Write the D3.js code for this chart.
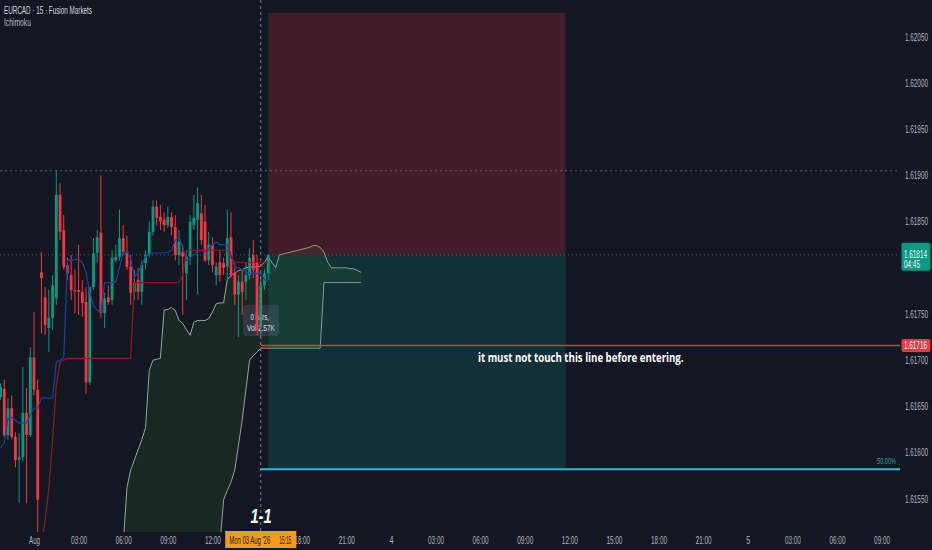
<!DOCTYPE html>
<html><head><meta charset="utf-8">
<script src="https://cdn.jsdelivr.net/npm/d3@7"></script>
<style>
html,body{margin:0;padding:0;background:#131722;overflow:hidden;}
svg{display:block;}
text{font-family:"Liberation Sans",Arial,sans-serif;}
</style></head><body>
<svg id="c" width="932" height="550"></svg>
<script>
// ---------- DATA ----------
const symbolTitle = "EURCAD · 15 · Fusion Markets";
const indicatorTitle = "Ichimoku";
const firstBar = "2026-08-02T21:45";   // first visible 15-min bar
const barMinutes = 15;

const open = [1.61660,1.61669,1.61619,1.61648,1.61617,1.61592,1.61595,1.61643,1.61619,1.61703,
 1.61668,1.61795,1.61768,1.61735,1.61746,1.61767,1.61879,1.61841,1.61803,1.61792,
 1.61776,1.61776,1.61774,1.61763,1.61676,1.61779,1.61816,1.61838,1.61751,1.61768,
 1.61765,1.61808,1.61812,1.61832,1.61817,1.61801,1.61774,1.61787,1.61774,1.61805,
 1.61814,1.61839,1.61866,1.61855,1.61852,1.61846,1.61855,1.61844,1.61814,1.61817,
 1.61794,1.61812,1.61846,1.61852,1.61859,1.61850,1.61808,1.61825,1.61792,1.61806,
 1.61805,1.61801,1.61833,1.61795,1.61771,1.61785,1.61785,1.61792,1.61814,1.61806,
 1.61736,1.61781,1.61794];
const high = [1.61675,1.61679,1.61659,1.61662,1.61622,1.61621,1.61693,1.61670,1.61714,1.61752,
 1.61679,1.61817,1.61779,1.61776,1.61792,1.61906,1.61892,1.61857,1.61811,1.61814,
 1.61798,1.61825,1.61787,1.61779,1.61779,1.61832,1.61841,1.61900,1.61773,1.61781,
 1.61819,1.61825,1.61863,1.61846,1.61835,1.61814,1.61798,1.61800,1.61808,1.61819,
 1.61850,1.61873,1.61873,1.61868,1.61860,1.61866,1.61860,1.61857,1.61841,1.61825,
 1.61819,1.61857,1.61879,1.61887,1.61879,1.61868,1.61839,1.61833,1.61806,1.61819,
 1.61811,1.61863,1.61860,1.61806,1.61792,1.61798,1.61806,1.61821,1.61830,1.61814,
 1.61789,1.61798,1.61814];
const low = [1.61657,1.61617,1.61614,1.61614,1.61584,1.61546,1.61590,1.61545,1.61617,1.61662,
 1.61514,1.61729,1.61727,1.61709,1.61733,1.61760,1.61830,1.61798,1.61787,1.61765,
 1.61751,1.61749,1.61747,1.61664,1.61673,1.61776,1.61806,1.61746,1.61735,1.61760,
 1.61760,1.61806,1.61808,1.61814,1.61798,1.61760,1.61765,1.61765,1.61760,1.61798,
 1.61811,1.61835,1.61846,1.61841,1.61839,1.61843,1.61835,1.61808,1.61803,1.61749,
 1.61765,1.61803,1.61841,1.61771,1.61825,1.61806,1.61803,1.61795,1.61781,1.61785,
 1.61792,1.61785,1.61789,1.61760,1.61725,1.61749,1.61765,1.61787,1.61789,1.61727,
 1.61724,1.61776,1.61787];
const close = [1.61671,1.61619,1.61648,1.61617,1.61592,1.61595,1.61643,1.61619,1.61703,1.61668,
 1.61549,1.61789,1.61738,1.61746,1.61781,1.61879,1.61839,1.61801,1.61794,1.61776,
 1.61775,1.61774,1.61762,1.61676,1.61779,1.61816,1.61833,1.61751,1.61767,1.61763,
 1.61811,1.61812,1.61832,1.61817,1.61801,1.61773,1.61784,1.61774,1.61803,1.61814,
 1.61839,1.61866,1.61854,1.61850,1.61846,1.61855,1.61844,1.61814,1.61828,1.61812,
 1.61812,1.61850,1.61854,1.61870,1.61830,1.61808,1.61825,1.61803,1.61801,1.61792,
 1.61800,1.61832,1.61792,1.61771,1.61785,1.61774,1.61792,1.61811,1.61798,1.61733,
 1.61781,1.61794,1.61814];

// Ichimoku
const tenkan = [1.61605,1.61610,1.61637,1.61638,1.61635,1.61632,1.61632,1.61632,1.61641,1.61648,
 1.61648,1.61659,1.61659,1.61659,1.61659,1.61698,1.61700,1.61702,1.61808,1.61808,
 1.61809,1.61809,1.61806,1.61795,1.61773,1.61759,1.61754,1.61752,1.61784,1.61784,
 1.61784,1.61785,1.61800,1.61817,1.61817,1.61811,1.61790,1.61795,1.61803,1.61812,
 1.61815,1.61816,1.61816,1.61816,1.61816,1.61817,1.61819,1.61830,1.61833,1.61822,
 1.61808,1.61811,1.61814,1.61818,1.61819,1.61817,1.61821,1.61825,1.61828,1.61825,
 1.61825,1.61825,1.61814,1.61801,1.61800,1.61798,1.61795,1.61794,1.61794,1.61794,
 1.61794,1.61787,1.61785];
const kijunStart = 11;
const kijun = [1.61500,1.61527,1.61562,1.61614,1.61673,1.61698,1.61700,
 1.61702,1.61702,1.61702,1.61702,1.61702,1.61702,1.61702,1.61702,1.61702,
 1.61702,1.61702,1.61702,1.61702,1.61702,1.61702,1.61702,1.61702,1.61702,
 1.61784,1.61784,1.61784,1.61784,1.61784,1.61784,1.61784,1.61784,1.61784,
 1.61784,1.61784,1.61784,1.61784,1.61792,1.61817,
 1.61819,1.61819,1.61819,1.61819,1.61819,1.61819,1.61819,1.61819,1.61819,1.61819,1.61819,
 1.61811,1.61806,1.61806,1.61806,1.61806,1.61806,1.61806,1.61806,1.61806,1.61806,1.61806];
const spanStart = 33;
const spanA = [1.61500,1.61562,1.61581,1.61592,1.61603,1.61614,1.61627,1.61689,1.61700,1.61701,
 1.61702,1.61754,1.61755,1.61757,1.61754,1.61743,1.61740,1.61733,1.61727,1.61741,
 1.61743,1.61743,1.61743,1.61745,1.61752,1.61761,1.61762,1.61762,1.61787,1.61792,
 1.61794,1.61797,1.61798,1.61800,1.61801,1.61801,1.61801,1.61802,1.61806,1.61812,
 1.61806,1.61800,1.61814,1.61815,1.61816,1.61817,1.61818,1.61819,1.61820,1.61821,
 1.61822,1.61824,1.61824,1.61822,1.61817,1.61806,1.61800,1.61800,1.61800,1.61800,
 1.61800,1.61799,1.61799,1.61797,1.61795];
const spanB = [null,null,null,null,null,null,null,null,null,null,
 null,null,null,null,null,null,null,null,null,null,
 null,null,null,null,null,null,1.61500,1.61549,1.61559,1.61568,
 1.61581,1.61608,1.61635,1.61668,1.61700,1.61705,1.61709,1.61713,1.61713,1.61713,
 1.61713,1.61713,1.61713,1.61713,1.61713,1.61713,1.61713,1.61713,1.61713,1.61713,
 1.61713,1.61713,1.61713,1.61713,1.61784,1.61784,1.61784,1.61784,1.61784,1.61784,
 1.61784,1.61784,1.61784,1.61784,1.61784];

const priceTicks = [1.62050,1.62000,1.61950,1.61900,1.61850,1.61800,1.61750,1.61700,1.61650,1.61600,1.61550];
const timeTickLabels = ["Aug","03:00","06:00","09:00","12:00","15:00","18:00","21:00","4",
 "03:00","06:00","09:00","12:00","15:00","18:00","21:00","5","03:00","06:00","09:00"];
const timeAxisStart = "2026-08-03T00:00", timeAxisEnd = "2026-08-05T09:00";

const lastPrice = 1.61814, countdown = "04:45";
const stopPrice = 1.62076, targetPrice = 1.61582;
const boxEnd = "2026-08-04T11:45";
const alertPrice = 1.61716;
const fibPrice = 1.61582, fibLabel = "50.00%";
const crossTime = "2026-08-03T15:15", crossPrice = 1.61905;
const crossLabel = ["Mon 03 Aug '26", "15:15"];
const tooltipLines = ["0 bars,", "Vol 2.57K"];
const noteText = "it must not touch this line before entering.";
const tagText = "1-1";

// ---------- CHART ----------
const svg = d3.select("#c");
const plotR = 900, plotB = 532;
const parse = d3.utcParse("%Y-%m-%dT%H:%M");
const t0 = parse(firstBar);
const tAt = i => new Date(t0.getTime() + i*barMinutes*60000);

const x = d3.scaleUtc().domain([parse(timeAxisStart), parse(timeAxisEnd)]).range([34, 881.6]);
const y = d3.scaleLinear().domain([1.61550, 1.62050]).range([498.8, 36.8]);

const C = {bg:"#131722", up:"#089981", down:"#f23645", text:"#b2b5be"};

// squeeze a text horizontally to a given width (the reference uses a narrow face)
function fitW(sel, w){
  sel.each(function(){
    const t = d3.select(this);
    const n = this.getComputedTextLength();
    const tw = typeof w === "function" ? w(this) : w;
    if(!n) return;
    const x0 = +t.attr("x") || 0;
    t.attr("transform", `translate(${x0},0) scale(${tw/n},1) translate(${-x0},0)`);
  });
}

svg.append("rect").attr("width",932).attr("height",550).attr("fill",C.bg);
svg.append("defs").append("clipPath").attr("id","plot")
  .append("rect").attr("x",0).attr("y",0).attr("width",plotR).attr("height",plotB);
const P = svg.append("g").attr("clip-path","url(#plot)");

// dotted reference lines
P.append("line").attr("x1",0).attr("x2",plotR).attr("y1",y(crossPrice)).attr("y2",y(crossPrice))
  .attr("stroke","#5d606b").attr("stroke-dasharray","2,3");
P.append("line").attr("x1",0).attr("x2",plotR).attr("y1",y(lastPrice)).attr("y2",y(lastPrice))
  .attr("stroke","#3f6a63").attr("stroke-dasharray","1,3");

// cloud
const spanData = spanA.map((a,j)=>({i:spanStart+j, a, b:spanB[j]}));
P.append("path").datum(spanData)
  .attr("d", d3.area().x(d=>x(tAt(d.i))).y1(d=>y(d.a)).y0(d=>d.b==null?plotB+20:y(d.b)))
  .attr("fill","#1a2723");
P.append("path").datum(spanData)
  .attr("d", d3.line().x(d=>x(tAt(d.i))).y(d=>y(d.a)))
  .attr("fill","none").attr("stroke","#94a89f").attr("stroke-width",1);
P.append("path").datum(spanData.filter(d=>d.b!=null))
  .attr("d", d3.line().x(d=>x(tAt(d.i))).y(d=>y(d.b)))
  .attr("fill","none").attr("stroke","#9c9ea3").attr("stroke-width",1);

// tooltip (under candles)
const tt = P.append("g");
tt.append("rect").attr("x",243).attr("y",305).attr("width",36).attr("height",31).attr("rx",3)
  .attr("fill","rgba(54,58,70,0.85)");
tt.append("text").attr("x",250.5).attr("y",320.5).attr("fill","#e0e3eb").attr("font-size",9.5)
  .text(tooltipLines[0]).call(fitW,18.5);
tt.append("text").attr("x",247).attr("y",331.5).attr("fill","#e0e3eb").attr("font-size",9.5)
  .text(tooltipLines[1]).call(fitW,28);

// candles
const bars = open.map((o,i)=>({i,o,h:high[i],l:low[i],c:close[i]}));
const cg = P.append("g");
bars.forEach(d=>{
  const cx = x(tAt(d.i));
  const col = d.c >= d.o ? C.up : C.down;
  cg.append("line").attr("x1",cx).attr("x2",cx)
    .attr("y1",y(Math.max(d.h,d.o,d.c))).attr("y2",y(Math.min(d.l,d.o,d.c)))
    .attr("stroke",col).attr("stroke-width",1);
  const y1 = y(Math.max(d.o,d.c)), y2 = y(Math.min(d.o,d.c));
  cg.append("rect").attr("x",cx-1.4).attr("width",2.8)
    .attr("y",y1).attr("height",Math.max(1,y2-y1)).attr("fill",col);
});

// tenkan / kijun
P.append("path").datum(tenkan.map((v,i)=>({i,v})))
  .attr("d", d3.line().x(d=>x(tAt(d.i))).y(d=>y(d.v)))
  .attr("fill","none").attr("stroke","#1f40a0").attr("stroke-width",1.2);
P.append("path").datum(kijun.map((v,j)=>({i:kijunStart+j,v})))
  .attr("d", d3.line().x(d=>x(tAt(d.i))).y(d=>y(d.v)))
  .attr("fill","none").attr("stroke","#8a1c26").attr("stroke-width",1.2);

// position boxes
const bx0 = x(tAt(open.length-1)), bx1 = x(parse(boxEnd));
P.append("rect").attr("x",bx0).attr("width",bx1-bx0).attr("y",y(stopPrice)).attr("height",y(lastPrice)-y(stopPrice))
  .attr("fill","rgba(242,54,69,0.2)");
P.append("rect").attr("x",bx0).attr("width",bx1-bx0).attr("y",y(lastPrice)).attr("height",y(targetPrice)-y(lastPrice))
  .attr("fill","rgba(8,153,129,0.2)");

// crosshair
const cxX = x(parse(crossTime));
P.append("line").attr("x1",cxX).attr("x2",cxX).attr("y1",0).attr("y2",plotB)
  .attr("stroke","#787b86").attr("stroke-dasharray","3,3");

// horizontal lines
P.append("line").attr("x1",cxX).attr("x2",plotR).attr("y1",y(alertPrice)).attr("y2",y(alertPrice))
  .attr("stroke","#f7303f").attr("stroke-width",1.5);
P.append("line").attr("x1",cxX).attr("x2",plotR).attr("y1",y(fibPrice)).attr("y2",y(fibPrice))
  .attr("stroke","#1fc1d6").attr("stroke-width",2.2);
svg.append("text").attr("x",896).attr("y",y(fibPrice)-5.5).attr("text-anchor","end")
  .attr("fill","#1fa593").attr("font-size",9.5).text(fibLabel).call(fitW,19);

// annotations
svg.append("text").attr("x",478).attr("y",362.5).attr("fill","#ffffff").attr("font-size",12.5)
  .attr("font-weight","bold").style("font-family","'Open Sans','Liberation Sans',sans-serif")
  .text(noteText).call(fitW,206);
svg.append("text").attr("x",250.5).attr("y",523).attr("fill","#ffffff").attr("font-size",21)
  .attr("font-weight","bold").attr("font-style","italic")
  .text(tagText).call(fitW,21);

// crosshair time label geometry (axis labels beneath it are hidden, as in the reference)
const clX0 = cxX-35.5, clX1 = cxX+35.5;
// last price label geometry
const lpY0 = y(lastPrice)-12, lpY1 = y(lastPrice)+16;

// price axis
const ya = svg.append("g").attr("transform","translate(905,0)")
  .call(d3.axisRight(y).tickValues(priceTicks).tickSize(0).tickPadding(0).tickFormat(d3.format(".5f")));
ya.select(".domain").remove();
ya.selectAll(".tick").filter(d=> y(d)+5 > lpY0 && y(d)-5 < lpY1).remove();
ya.selectAll("text").attr("fill",C.text).attr("font-size",10).style("font-family",null).call(fitW,23);

// time axis
const tTicks = d3.utcHour.every(3).range(parse(timeAxisStart), new Date(parse(timeAxisEnd).getTime()+1));
const xa = svg.append("g").attr("transform","translate(0,537)")
  .call(d3.axisBottom(x).tickValues(tTicks).tickSize(0).tickPadding(0).tickFormat((d,i)=>timeTickLabels[i]));
xa.select(".domain").remove();
xa.selectAll(".tick").filter(d=> Math.abs(x(d)-cxX) < 30).remove();
xa.selectAll("text").attr("fill",C.text).attr("font-size",10)
  .call(fitW, el => { const s = el.textContent; return s.length>=5 ? 16 : (s.length===3 ? 11 : 4); });

// last price label
const lp = svg.append("g");
lp.append("rect").attr("x",901.5).attr("y",lpY0).attr("width",29).attr("height",lpY1-lpY0).attr("rx",2).attr("fill",C.up);
lp.append("text").attr("x",904).attr("y",y(lastPrice)+3).attr("fill","#fff").attr("font-size",10)
  .text(d3.format(".5f")(lastPrice)).call(fitW,23);
lp.append("text").attr("x",904).attr("y",y(lastPrice)+13.5).attr("fill","#fff").attr("font-size",10)
  .text(countdown).call(fitW,16);

// alert price label
const ap = svg.append("g");
ap.append("rect").attr("x",901.5).attr("y",y(alertPrice)-6.5).attr("width",29).attr("height",13).attr("rx",2).attr("fill","#f23645");
ap.append("text").attr("x",904).attr("y",y(alertPrice)+3.5).attr("fill","#fff").attr("font-size",10)
  .text(d3.format(".5f")(alertPrice)).call(fitW,23);

// crosshair time label
const cl = svg.append("g");
cl.append("rect").attr("x",clX0).attr("y",531).attr("width",clX1-clX0).attr("height",17).attr("fill","#f89b1c");
cl.append("text").attr("x",cxX-31.5).attr("y",544).attr("fill","#131722").attr("font-size",10)
  .text(crossLabel[0]).call(fitW,41);
cl.append("text").attr("x",cxX+18.5).attr("y",544).attr("fill","#131722").attr("font-size",10)
  .text(crossLabel[1]).call(fitW,12);

// legend
svg.append("text").attr("x",4).attr("y",14).attr("fill","#d1d4dc").attr("font-size",10.5)
  .text(symbolTitle).call(fitW,88);
svg.append("text").attr("x",4).attr("y",26.5).attr("fill","#b2b5be").attr("font-size",10.5)
  .text(indicatorTitle).call(fitW,27);
</script>
</body></html>
